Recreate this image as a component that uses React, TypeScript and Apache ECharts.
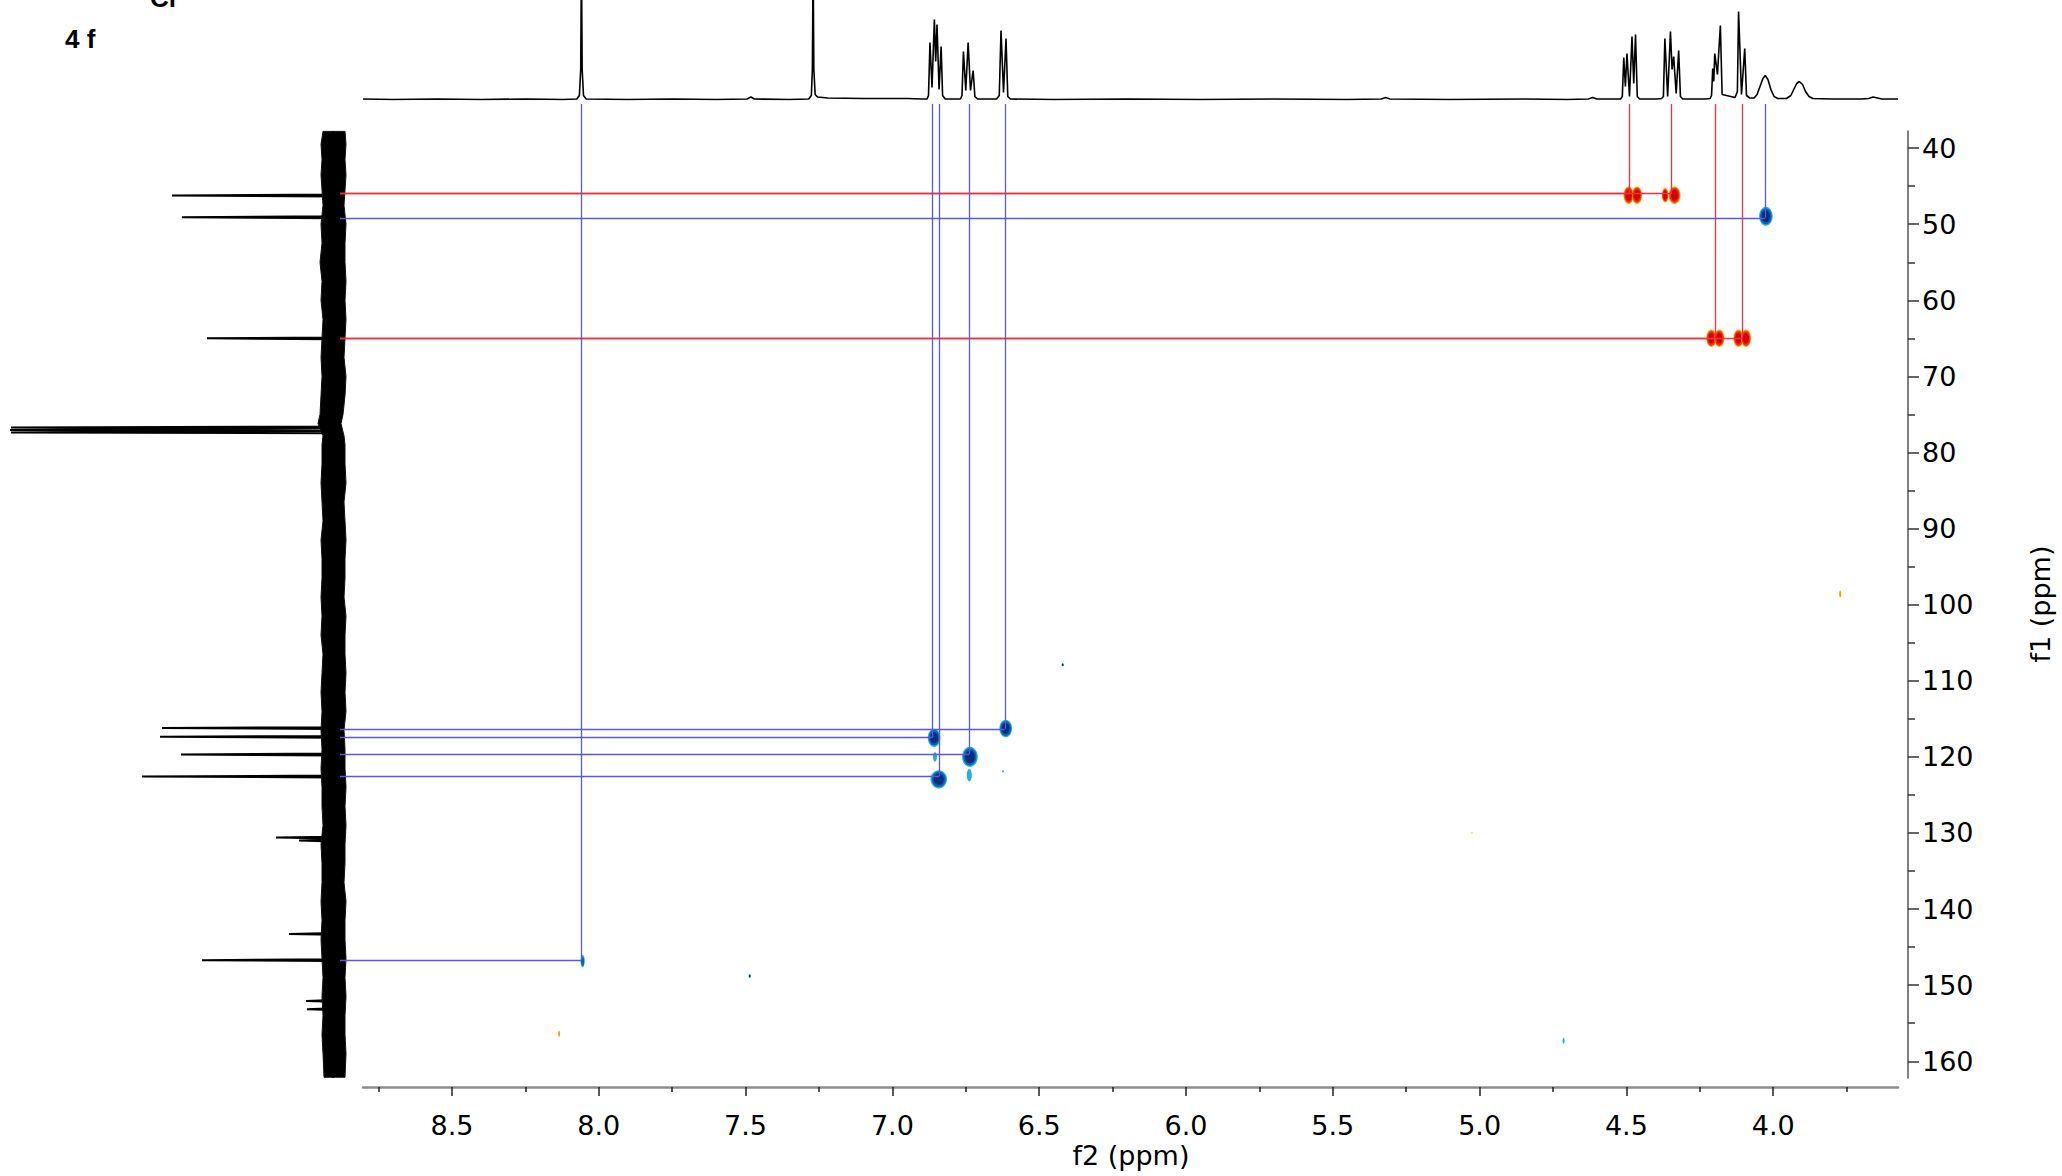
import React, { useEffect, useRef } from "react";
import * as echarts from "echarts";

// ---------------- axis ticks ----------------
const X_MAJOR_TICKS = [4.0, 4.5, 5.0, 5.5, 6.0, 6.5, 7.0, 7.5, 8.0, 8.5];
const X_MINOR_TICKS = [3.75, 4.25, 4.75, 5.25, 5.75, 6.25, 6.75, 7.25, 7.75, 8.25, 8.75];
const Y_MAJOR_TICKS = [40, 50, 60, 70, 80, 90, 100, 110, 120, 130, 140, 150, 160];
const Y_MINOR_TICKS = [45, 55, 65, 75, 85, 95, 105, 115, 125, 135, 145, 155];

// visible ranges (ppm)
const F2_RANGE = [3.575, 8.803];
const F1_RANGE = [37.75, 162.2];

// ---------------- 1H projection (top): [ppm, intensity] ----------------
const PROTON_TRACE: [number, number][] = [
  [8.803, 0.5], [8.7, 0], [8.55, 0.5], [8.4, 0], [8.25, 0.5], [8.12, 0],
  [8.075, 0.5], [8.066, 4], [8.0615, 30], [8.059, 140], [8.0565, 30], [8.052, 4], [8.043, 0.5],
  [7.9, 0], [7.75, 0.5], [7.6, 0], [7.495, 0.5], [7.482, 2.5], [7.47, 0.5], [7.35, 0],
  [7.285, 0.5], [7.276, 4], [7.2725, 30], [7.27, 140], [7.2675, 30], [7.263, 5], [7.255, 2.5], [7.22, 1.5], [7.1, 1], [6.95, 1], [6.9, 0.5],
  [6.882, 0.5], [6.877, 4], [6.872, 57], [6.865, 12], [6.857, 80], [6.8525, 38], [6.848, 75], [6.841, 10], [6.834, 53], [6.829, 4], [6.82, 0.5],
  [6.768, 0.5], [6.763, 4], [6.758, 48], [6.75, 9], [6.742, 57], [6.734, 9], [6.725, 29], [6.719, 3], [6.71, 0.5],
  [6.645, 0.5], [6.636, 4], [6.63, 69], [6.6215, 7], [6.613, 61], [6.607, 3], [6.598, 0.5],
  [6.45, 0], [6.2, 0.5], [5.95, 0], [5.7, 0.5], [5.45, 0], [5.335, 0.5], [5.32, 2], [5.305, 0.5], [5.1, 0], [4.85, 0.5], [4.7, 0],
  [4.63, 0.5], [4.615, 2], [4.6, 0.5], [4.53, 0.5],
  [4.52, 0.5], [4.514, 3], [4.509, 42], [4.5035, 13], [4.498, 46], [4.4895, 3], [4.481, 63], [4.475, 16], [4.469, 65], [4.463, 3], [4.455, 0.5],
  [4.395, 0.5], [4.38, 1], [4.374, 3], [4.369, 61], [4.3595, 3], [4.35, 68], [4.3445, 30], [4.339, 43], [4.3305, 6], [4.322, 49], [4.316, 3], [4.308, 0.5],
  [4.23, 0.5], [4.215, 1], [4.21, 4], [4.206, 31], [4.2025, 18], [4.199, 46], [4.19, 25], [4.18, 74], [4.174, 5],
  [4.13, 2], [4.122, 8], [4.118, 88], [4.108, 5], [4.097, 51], [4.091, 4], [4.08, 1.5],
  [4.065, 1.5], [4.055, 5], [4.045, 13], [4.035, 21], [4.027, 24], [4.018, 20], [4.008, 10], [3.997, 3], [3.985, 1],
  [3.955, 1], [3.94, 4], [3.93, 10], [3.92, 16], [3.911, 18], [3.9, 15], [3.89, 8], [3.878, 3], [3.865, 1],
  [3.8, 0.5], [3.7, 0.5], [3.675, 1], [3.66, 2.5], [3.645, 1.5], [3.63, 0.5], [3.575, 0.5],
];

// ---------------- 13C projection (left) ----------------
const CARBON_PEAK_PPM = [46.23, 49.08, 65.0, 76.72, 77.04, 77.36, 116.22, 117.36, 119.69, 122.58, 130.6, 131.0, 143.26, 146.72, 152.07, 153.16];
const CARBON_PEAK_INT = [161, 151, 126, 322, 323, 322, 171, 173, 152, 191, 57, 34, 44, 131, 27, 26];

// baseline noise envelope of the 13C projection
const NOISE_PPM = [37.8, 39.5, 41.5, 43.5, 45.5, 47.5, 50, 52.5, 55, 57.5, 60, 62.5, 65, 67.5, 70, 72.5, 75, 76.2, 77.8, 79, 81.5, 84, 86.5, 89, 91.5, 94, 96.5, 99, 101.5, 104, 106.5, 109, 111.5, 114, 116.5, 119, 121.5, 124, 126.5, 129, 131.5, 134, 136.5, 139, 141.5, 144, 146.5, 149, 151.5, 154, 156.5, 159, 162.1];
const NOISE_LEFT = [10, 12, 11, 12, 11, 10, 12, 11, 13, 11, 12, 10, 11, 12, 11, 12, 13, 15, 10, 11, 11, 12, 11, 10, 12, 11, 11, 12, 11, 12, 10, 11, 12, 11, 12, 11, 12, 11, 11, 10, 12, 11, 11, 12, 11, 12, 11, 10, 11, 10, 11, 10, 9];
const NOISE_RIGHT = [-12, -13, -12, -13, -12, -11, -13, -12, -12, -13, -12, -13, -12, -11, -13, -12, -10, -8, -11, -12, -12, -13, -11, -12, -13, -12, -12, -11, -13, -12, -12, -13, -12, -13, -11, -12, -12, -13, -12, -13, -12, -12, -11, -13, -12, -12, -13, -12, -13, -12, -12, -13, -12];

// ---------------- HSQC cross peaks ----------------
// f2 (1H) centre, f1 (13C) centre, widths in ppm, level (+ = CH/CH3, - = CH2)
const XPEAK_H = [4.4925, 4.464, 4.368, 4.336, 4.2108, 4.1836, 4.1183, 4.0928, 4.025, 6.614, 6.858, 6.855, 6.736, 6.738, 6.842, 8.055, 3.772, 6.42, 5.026, 7.486, 8.135, 4.714, 6.623];
const XPEAK_C = [46.2, 46.2, 46.2, 46.2, 65.0, 65.0, 65.0, 65.0, 48.95, 116.27, 117.5, 120.0, 120.0, 122.4, 122.95, 146.85, 98.6, 107.9, 130.0, 148.8, 156.4, 157.3, 121.9];
const XPEAK_WH = [0.034, 0.034, 0.022, 0.04, 0.034, 0.034, 0.034, 0.034, 0.046, 0.043, 0.043, 0.014, 0.053, 0.017, 0.056, 0.014, 0.007, 0.007, 0.006, 0.006, 0.006, 0.007, 0.006];
const XPEAK_WC = [2.3, 2.3, 1.9, 2.3, 2.3, 2.3, 2.3, 2.3, 2.5, 2.3, 2.4, 1.2, 2.63, 1.6, 2.4, 1.6, 0.9, 0.4, 0.3, 0.5, 0.8, 0.8, 0.3];
const XPEAK_LEVEL = [-1, -1, -0.9, -1, -1, -1, -1, -1, 1, 1, 1, 0.35, 1, 0.4, 1, 0.6, -0.3, 0.9, -0.15, 0.9, -0.3, 0.3, 0.3];

// ---------------- assignments (connecting lines) ----------------
const CORR_H = [4.489, 4.346, 4.196, 4.106, 4.028, 6.617, 6.863, 6.738, 6.841, 8.059];
const CORR_C = [45.97, 45.97, 64.94, 64.94, 49.16, 116.31, 117.45, 119.63, 122.58, 146.68];
const CORR_KIND = ["CH2", "CH2", "CH2", "CH2", "CH", "CH", "CH", "CH", "CH", "CH"];

// ---------------- layout ----------------
const W = 2062;
const H = 1176;
const PLOT = { left: 363, right: 1898, top: 131, bottom: 1078 };
const OVERLAY = { left: 340, top: 104 };
const FONT = "DejaVu Sans";

const xPxPerPpm = (PLOT.right - PLOT.left) / (F2_RANGE[1] - F2_RANGE[0]);
const yPxPerPpm = (PLOT.bottom - PLOT.top) / (F1_RANGE[1] - F1_RANGE[0]);
const overlayF2Max = F2_RANGE[1] + (PLOT.left - OVERLAY.left) / xPxPerPpm;
const overlayF1Min = F1_RANGE[0] - (PLOT.top - OVERLAY.top) / yPxPerPpm;

const BLUE_LINE = "#5858e0";
const RED_LINE = "#f0323e";
const POS = { outer: "#1fb0e6", mid: "#0d5fb5", core: "#062c7c", faint: "#9fe3f7" };
const NEG = { outer: "#ff9c00", mid: "#f22a10", core: "#d40000", faint: "#ffe07a" };

function buildOption(): any {
  const carbonTrace: [number, number][] = [[0, F1_RANGE[0]]];
  CARBON_PEAK_PPM.forEach((p, i) => {
    carbonTrace.push([0, p - 0.12], [CARBON_PEAK_INT[i], p], [0, p + 0.12]);
  });
  carbonTrace.push([0, F1_RANGE[1]]);

  const corrLines: any[] = [];
  CORR_H.forEach((h, i) => {
    const color = CORR_KIND[i] === "CH2" ? RED_LINE : BLUE_LINE;
    corrLines.push({ coords: [[h, overlayF1Min], [h, CORR_C[i]]], lineStyle: { color } });
    corrLines.push({ coords: [[overlayF2Max, CORR_C[i]], [h, CORR_C[i]]], lineStyle: { color } });
  });

  const peakData = XPEAK_H.map((h, i) => [h, XPEAK_C[i], XPEAK_WH[i], XPEAK_WC[i], XPEAK_LEVEL[i]]);

  const hidden = {
    axisLine: { show: false },
    axisTick: { show: false },
    axisLabel: { show: false },
    splitLine: { show: false },
  };
  const labelStyle = { color: "#000", fontSize: 27, fontFamily: FONT };

  return {
    animation: false,
    backgroundColor: "#ffffff",
    grid: [
      { left: PLOT.left, right: W - PLOT.right, top: PLOT.top, bottom: H - PLOT.bottom, outerBoundsMode: "none", containLabel: false },
      { left: PLOT.left, right: W - PLOT.right, top: 0, height: 100, outerBoundsMode: "none", containLabel: false },
      { left: 0, width: 350, top: PLOT.top, bottom: H - PLOT.bottom, outerBoundsMode: "none", containLabel: false },
      { left: OVERLAY.left, right: W - PLOT.right, top: OVERLAY.top, bottom: H - PLOT.bottom, outerBoundsMode: "none", containLabel: false },
    ],
    xAxis: [
      {
        type: "value", gridIndex: 0, min: F2_RANGE[0], max: F2_RANGE[1], inverse: true, position: "bottom", offset: 9,
        axisLine: { show: true, onZero: false, lineStyle: { color: "#8c8c8c", width: 2.5 } },
        axisTick: { show: true, customValues: X_MAJOR_TICKS, length: 9, lineStyle: { color: "#222", width: 1.5 } },
        axisLabel: { show: true, customValues: X_MAJOR_TICKS, formatter: (v: number) => v.toFixed(1), margin: 25, ...labelStyle },
        splitLine: { show: false },
      },
      {
        type: "value", gridIndex: 0, min: F2_RANGE[0], max: F2_RANGE[1], inverse: true, position: "bottom", offset: 9,
        axisLine: { show: false, onZero: false },
        axisTick: { show: true, customValues: X_MINOR_TICKS, length: 5, lineStyle: { color: "#222", width: 1.5 } },
        axisLabel: { show: false },
        splitLine: { show: false },
      },
      { type: "value", gridIndex: 1, min: F2_RANGE[0], max: F2_RANGE[1], inverse: true, ...hidden },
      { type: "value", gridIndex: 2, min: -17, max: 333, inverse: true, ...hidden },
      { type: "value", gridIndex: 3, min: F2_RANGE[0], max: overlayF2Max, inverse: true, ...hidden },
    ],
    yAxis: [
      {
        type: "value", gridIndex: 0, min: F1_RANGE[0], max: F1_RANGE[1], inverse: true, position: "right", offset: 10,
        axisLine: { show: true, onZero: false, lineStyle: { color: "#555", width: 1.5 } },
        axisTick: { show: true, customValues: Y_MAJOR_TICKS, length: 11, lineStyle: { color: "#333", width: 1.5 } },
        axisLabel: { show: true, customValues: Y_MAJOR_TICKS, formatter: (v: number) => String(Math.round(v)), margin: 14, ...labelStyle },
        splitLine: { show: false },
      },
      {
        type: "value", gridIndex: 0, min: F1_RANGE[0], max: F1_RANGE[1], inverse: true, position: "right", offset: 10,
        axisLine: { show: false, onZero: false },
        axisTick: { show: true, customValues: Y_MINOR_TICKS, length: 7, lineStyle: { color: "#333", width: 1.5 } },
        axisLabel: { show: false },
        splitLine: { show: false },
      },
      { type: "value", gridIndex: 1, min: -0.5, max: 99.5, ...hidden },
      { type: "value", gridIndex: 2, min: F1_RANGE[0], max: F1_RANGE[1], inverse: true, ...hidden },
      { type: "value", gridIndex: 3, min: overlayF1Min, max: F1_RANGE[1], inverse: true, ...hidden },
    ],
    graphic: [
      { type: "text", x: 65, y: 39, silent: true, style: { text: "4 f", fill: "#000", fontSize: 26, fontWeight: "bold", fontFamily: "Liberation Sans", align: "left", verticalAlign: "middle", textAlign: "left", textVerticalAlign: "middle" } },
      { type: "text", x: 150, y: -2.5, silent: true, style: { text: "Cl", fill: "#000", fontSize: 26, fontWeight: "bold", fontFamily: "Liberation Sans", align: "left", verticalAlign: "middle", textAlign: "left", textVerticalAlign: "middle" } },
      { type: "text", x: 1131, y: 1155, silent: true, style: { text: "f2 (ppm)", fill: "#000", fontSize: 27, fontFamily: FONT, align: "center", verticalAlign: "middle", textAlign: "center", textVerticalAlign: "middle" } },
      { type: "text", x: 2040, y: 604, rotation: Math.PI / 2, silent: true, style: { text: "f1 (ppm)", fill: "#000", fontSize: 27, fontFamily: FONT, align: "center", verticalAlign: "middle", textAlign: "center", textVerticalAlign: "middle" } },
    ],
    series: [
      {
        name: "1H", type: "line", xAxisIndex: 2, yAxisIndex: 2, data: PROTON_TRACE,
        showSymbol: false, symbol: "none", lineStyle: { color: "#000", width: 1.6 }, z: 2, silent: true,
      },
      {
        name: "13C", type: "line", xAxisIndex: 3, yAxisIndex: 3, data: carbonTrace,
        showSymbol: false, symbol: "none", lineStyle: { color: "#000", width: 2 }, z: 2, silent: true,
      },
      {
        name: "13C noise", type: "custom", xAxisIndex: 3, yAxisIndex: 3, data: [[0, 100]], encode: { x: 0, y: 1 }, z: 3, silent: true,
        renderItem: (_p: any, api: any) => {
          const n = Math.min(NOISE_PPM.length, NOISE_LEFT.length, NOISE_RIGHT.length);
          const pts: number[][] = [];
          for (let i = 0; i < n; i++) pts.push(api.coord([NOISE_LEFT[i], NOISE_PPM[i]]));
          for (let i = n - 1; i >= 0; i--) pts.push(api.coord([NOISE_RIGHT[i], NOISE_PPM[i]]));
          return { type: "polygon", shape: { points: pts }, style: { fill: "#000", stroke: "#111", lineWidth: 1 } };
        },
      },
      {
        name: "HSQC", type: "custom", xAxisIndex: 0, yAxisIndex: 0, data: peakData, encode: { x: 0, y: 1 }, z: 3, silent: true,
        renderItem: (_p: any, api: any) => {
          const h = api.value(0), c = api.value(1), wh = api.value(2), wc = api.value(3), lvl = api.value(4);
          const pt = api.coord([h, c]);
          const sz = api.size([wh, wc]);
          const rx = Math.max(Math.abs(sz[0]) / 2, 1);
          const ry = Math.max(Math.abs(sz[1]) / 2, 1);
          const pal = lvl > 0 ? POS : NEG;
          const a = Math.abs(lvl);
          const layers: [number, string][] =
            a >= 0.8 ? [[1, pal.outer], [0.85, pal.mid], [0.62, pal.core]]
              : a >= 0.5 ? [[1, pal.outer], [0.75, pal.mid]]
                : [[1, a < 0.2 ? pal.faint : pal.outer]];
          return {
            type: "group",
            children: layers.map(([k, col]) => ({
              type: "ellipse",
              shape: { cx: pt[0], cy: pt[1], rx: rx * k, ry: ry * k },
              style: { fill: col },
            })),
          };
        },
      },
      {
        name: "assignments", type: "lines", coordinateSystem: "cartesian2d", xAxisIndex: 4, yAxisIndex: 4,
        data: corrLines, lineStyle: { width: 1.3, opacity: 1, curveness: 0 }, z: 5, silent: true,
      },
    ],
  };
}

export default function App() {
  const ref = useRef<HTMLDivElement>(null);
  useEffect(() => {
    if (!ref.current) return;
    const chart = echarts.init(ref.current, null, { renderer: "svg", width: W, height: H });
    chart.setOption(buildOption());
    return () => chart.dispose();
  }, []);
  return <div ref={ref} style={{ position: "fixed", left: 0, top: 0, width: W, height: H, background: "#fff" }} />;
}
